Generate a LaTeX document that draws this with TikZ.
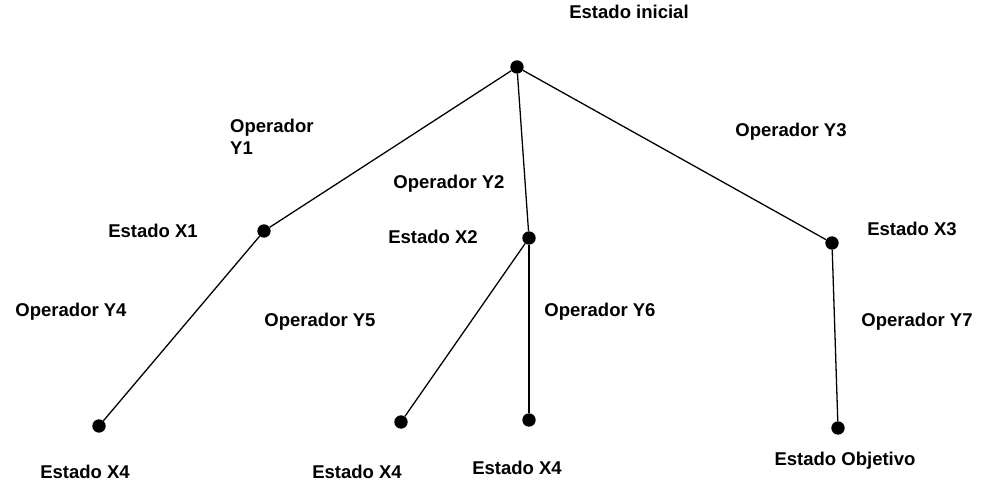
\documentclass[tikz,border=0pt]{standalone}
\usepackage{fontspec}
\setmainfont{Liberation Sans}
\usepackage{tikz}

\begin{document}
\begin{tikzpicture}[
    x=0.03cm, y=-0.03cm,
    state/.style={circle, fill=black, inner sep=0pt, minimum size=0.4cm},
    label/.style={font=\fontsize{15.8}{17}\selectfont\bfseries, inner sep=0pt},
    edge/.style={draw=black, line width=1.1pt},
  ]
    \useasboundingbox (0,0) rectangle (982,483);

    \node[state] (ini) at (517,67) {};
    \node[state] (x1) at (264,231) {};
    \node[state] (x2) at (529,238) {};
    \node[state] (x3) at (832,243) {};
    \node[state] (x4a) at (99,426) {};
    \node[state] (x4b) at (401,422) {};
    \node[state] (x4c) at (529,420) {};
    \node[state] (obj) at (838,428) {};

    \draw[edge] (ini) -- (x1);
    \draw[edge] (ini) -- (x2);
    \draw[edge] (ini) -- (x3);
    \draw[edge] (x1) -- (x4a);
    \draw[edge] (x2) -- (x4b);
    \draw[edge] (x2) -- (x4c);
    \draw[edge] (x3) -- (obj);

    \node[label] (lini) at (629,12) {Estado inicial};
    \node[label, align=left, anchor=west] (ly1) at (230,137) {Operador\\[2pt]Y1};
    \node[label] (ly2) at (449,184) {Operador Y2};
    \node[label] (ly3) at (791,132) {Operador Y3};

    \node[label] (lx1) at (153,231) {Estado X1};
    \node[label] (lx2) at (433,237) {Estado X2};
    \node[label] (lx3) at (912,229) {Estado X3};

    \node[label] (ly4) at (71,312) {Operador Y4};
    \node[label] (ly5) at (320,322) {Operador Y5};
    \node[label] (ly6) at (600,312) {Operador Y6};
    \node[label] (ly7) at (917,322) {Operador Y7};

    \node[label] (lx4a) at (85,472) {Estado X4};
    \node[label] (lx4b) at (357,472) {Estado X4};
    \node[label] (lx4c) at (517,468) {Estado X4};
    \node[label] (lobj) at (845,461) {Estado Objetivo};
  \end{tikzpicture}
\end{document}
